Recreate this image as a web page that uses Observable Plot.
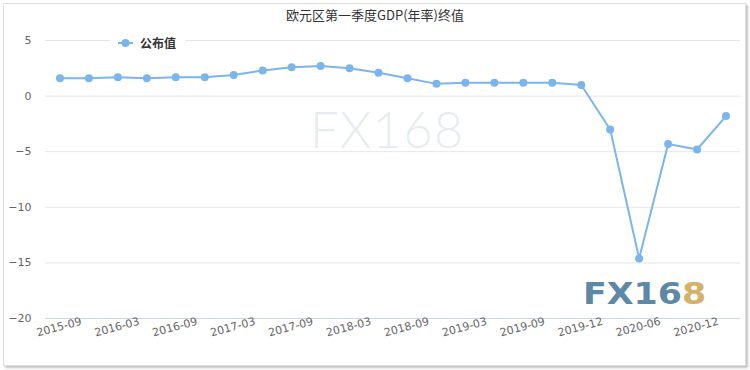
<!DOCTYPE html>
<html>
<head>
<meta charset="utf-8">
<script src="https://cdn.jsdelivr.net/npm/d3@7"></script>
<script src="https://cdn.jsdelivr.net/npm/@observablehq/plot@0.6"></script>
<style>
  body { margin: 0; background: #fff; }
  #wrap { position: relative; width: 750px; height: 370px; overflow: hidden; font-family: "Noto Sans CJK SC", "Noto Sans", sans-serif; }
  #frame { position: absolute; left: 3px; top: 3px; width: 741px; height: 361px; border: 1px solid #dedede; box-shadow: 2px 2px 2px #c4c4c4; }
  #title { position: absolute; left: 0; width: 750px; top: 5px; text-align: center; font-size: 13px; color: #333; }
  #chart { position: absolute; left: 0; top: 0; }
  #legend { position: absolute; left: 110px; top: 33px; width: 75px; height: 20px; background: #fff; }
  #legend span { position: absolute; left: 30px; top: 0px; font-size: 12px; font-weight: bold; color: #333; line-height: 20px; }
  #wm { position: absolute; left: 310px; top: 98px; font-family: "Lato", "Open Sans", sans-serif; font-weight: 300; font-size: 51px; color: #e6ecf0; letter-spacing: 1px; }
  #logo { position: absolute; left: 583px; top: 276px; font-family: "DejaVu Sans", sans-serif; font-weight: bold; font-size: 30px; color: #5d89a6; transform: scaleX(1.16); transform-origin: left top; }
  #logo b { color: #d4b26a; }
</style>
</head>
<body>
<div id="wrap">
  <div id="frame"></div>
  <div id="wm">FX168</div>
  <div id="logo">FX16<b>8</b></div>
  <div id="chart"></div>
  <div id="title">欧元区第一季度GDP(年率)终值</div>
  <div id="legend">
    <svg width="30" height="20" style="position:absolute;left:0;top:0">
      <line x1="8" x2="23" y1="10" y2="10" stroke="#7cb5ec" stroke-width="2"></line>
      <circle cx="15.5" cy="10" r="4" fill="#7cb5ec"></circle>
    </svg>
    <span>公布值</span>
  </div>
</div>
<script>
const categories = ["2015-09","2015-12","2016-03","2016-06","2016-09","2016-12","2017-03","2017-06",
  "2017-09","2017-12","2018-03","2018-06","2018-09","2018-12","2019-03","2019-06",
  "2019-09","2019-11","2019-12","2020-03","2020-06","2020-09","2020-12","2021-03"];
const values = [1.6,1.6,1.7,1.6,1.7,1.7,1.9,2.3,2.6,2.7,2.5,2.1,1.6,1.1,1.2,1.2,1.2,1.2,1.0,-3.0,-14.6,-4.3,-4.8,-1.8];
const tickLabels = ["2015-09","2016-03","2016-09","2017-03","2017-09","2018-03","2018-09","2019-03","2019-09","2019-12","2020-06","2020-12"];
const yTicks = [-20,-15,-10,-5,0,5];

const data = categories.map((c, i) => ({period: c, value: values[i]}));

const chart = Plot.plot({
  width: 750,
  height: 370,
  marginTop: 40,
  marginBottom: 52,
  marginLeft: 45,
  marginRight: 10,
  style: {background: "transparent", color: "#666", fontSize: "11px", fontFamily: "'DejaVu Sans', sans-serif"},
  x: {type: "point", domain: categories, padding: 0.5, round: false, axis: null},
  y: {domain: [-20, 5], axis: null, label: null},
  marks: [
    Plot.gridY(yTicks.filter(t => t > -20), {stroke: "#e6e6e6", strokeOpacity: 1}),
    Plot.ruleY([-20], {stroke: "#ccd6eb"}),
    Plot.axisY(yTicks, {tickSize: 0, tickPadding: 14, fill: "#666", fontSize: 11, label: null}),
    Plot.line(data, {x: "period", y: "value", stroke: "#7cb5ec", strokeWidth: 2}),
    Plot.dot(data, {x: "period", y: "value", r: 4, fill: "#7cb5ec", stroke: "none"}),
    Plot.text(tickLabels, {x: d => d, frameAnchor: "bottom", dy: 12, rotate: -15, fill: "#666", fontSize: 11})
  ]
});
document.getElementById("chart").appendChild(chart);
</script>
</body>
</html>
